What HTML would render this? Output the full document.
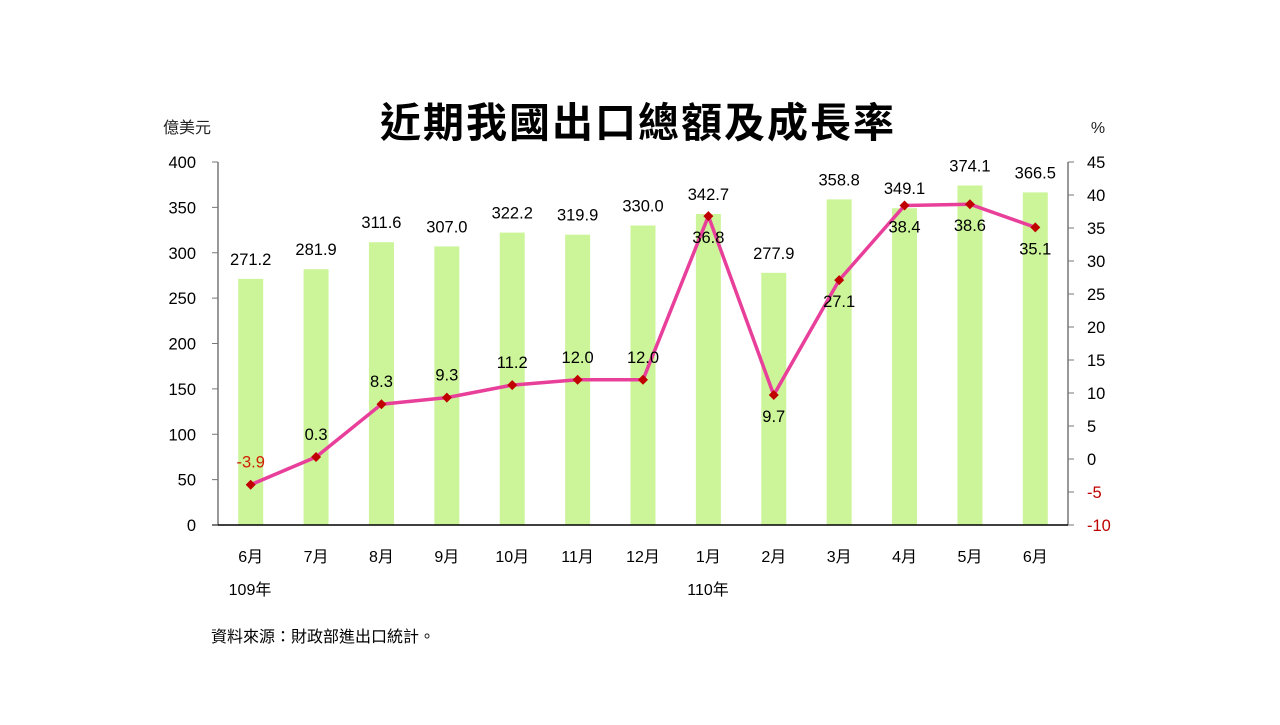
<!DOCTYPE html>
<html><head><meta charset="utf-8"><style>
body{margin:0;background:#fff;width:1280px;height:720px;overflow:hidden;font-family:"Liberation Sans","Noto Sans CJK TC",sans-serif}
</style></head><body>
<svg id="chart" width="1280" height="720" xmlns="http://www.w3.org/2000/svg" font-family="Liberation Sans, Noto Sans CJK TC, sans-serif">
<text x="638" y="137" text-anchor="middle" font-size="41" font-weight="bold" letter-spacing="2" fill="#000">近期我國出口總額及成長率</text>
<text x="187" y="133" text-anchor="middle" font-size="16" fill="#222">億美元</text>
<text x="1098" y="133" text-anchor="middle" font-size="16" fill="#222">%</text>
<g id="bars"></g><g id="axes"></g><g id="line"></g><g id="labels"></g>
<text x="250" y="595" text-anchor="middle" font-size="16" fill="#000">109年</text>
<text x="708" y="595" text-anchor="middle" font-size="16" fill="#000">110年</text>
<text x="211" y="642" font-size="16" fill="#000">資料來源：財政部進出口統計。</text>
</svg>
<script>
const categories=["6月","7月","8月","9月","10月","11月","12月","1月","2月","3月","4月","5月","6月"];
const exportValues=[271.2,281.9,311.6,307.0,322.2,319.9,330.0,342.7,277.9,358.8,349.1,374.1,366.5];
const growthRates=[-3.9,0.3,8.3,9.3,11.2,12.0,12.0,36.8,9.7,27.1,38.4,38.6,35.1];
const leftTicks=[0,50,100,150,200,250,300,350,400];
const rightTicks=[-10,-5,0,5,10,15,20,25,30,35,40,45];
const growthLabelBelow=[false,false,false,false,false,false,false,true,true,true,true,true,true];
const NS="http://www.w3.org/2000/svg";
const X0=218,X1=1068,Y0=525,Y1=162;
const step=(X1-X0)/categories.length;
const xC=i=>X0+step*(i+0.5);
const yL=v=>Y0-(v-0)/(400-0)*(Y0-Y1);
const yR=v=>Y0-(v+10)/55*(Y0-Y1);
function mk(tag,attrs,parent,text){const e=document.createElementNS(NS,tag);for(const k in attrs)e.setAttribute(k,attrs[k]);if(text!==undefined)e.textContent=text;document.getElementById(parent).appendChild(e);return e;}
exportValues.forEach((v,i)=>{
 const r=mk('rect',{x:xC(i)-12.5,y:yL(v),width:25,height:Y0-yL(v),fill:'#CCF59A'},'bars');
 
 
 const t=mk('text',{x:xC(i),y:yL(v)-14,'text-anchor':'middle','font-size':16.5,fill:'#000'},'labels',v.toFixed(1));
 
 
 const c=mk('text',{x:xC(i),y:562,'text-anchor':'middle','font-size':16,fill:'#000'},'labels',categories[i]);
 
 
});
let a=mk('line',{x1:X0,y1:Y1,x2:X0,y2:Y0,stroke:'#777','stroke-width':1.5},'axes');


a=mk('line',{x1:X1,y1:Y1,x2:X1,y2:Y0,stroke:'#777','stroke-width':1.5},'axes');


a=mk('line',{x1:X0-6,y1:Y0,x2:X1,y2:Y0,stroke:'#000','stroke-width':1.5},'axes');


leftTicks.forEach(v=>{
 mk('line',{x1:X0-6,y1:yL(v),x2:X0,y2:yL(v),stroke:'#777'},'axes');
 const t=mk('text',{x:196,y:yL(v)+6,'text-anchor':'end','font-size':16.5,fill:'#000'},'axes',String(v));
 
 
});
rightTicks.forEach(v=>{
 mk('line',{x1:X1,y1:yR(v),x2:X1+6,y2:yR(v),stroke:'#777'},'axes');
 const t=mk('text',{x:1087,y:yR(v)+6,'font-size':16.5,fill:v<0?'#C00000':'#000'},'axes',String(v));
 
 
});
const pts=growthRates.map((v,i)=>xC(i)+','+yR(v)).join(' ');
const pl=mk('polyline',{points:pts,fill:'none',stroke:'#E8409A','stroke-width':3.5,'stroke-linejoin':'round'},'line');


growthRates.forEach((v,i)=>{
 const x=xC(i),y=yR(v);
 const m=mk('polygon',{points:`${x},${y-5} ${x+5},${y} ${x},${y+5} ${x-5},${y}`,fill:'#C00000'},'line');
 
 
 const ly=growthLabelBelow[i]?y+27:y-17;
 const t=mk('text',{x:x,y:ly,'text-anchor':'middle','font-size':16.5,fill:v<0?'#D02000':'#000'},'labels',v.toFixed(1));
 
 
});
</script>
</body></html>
